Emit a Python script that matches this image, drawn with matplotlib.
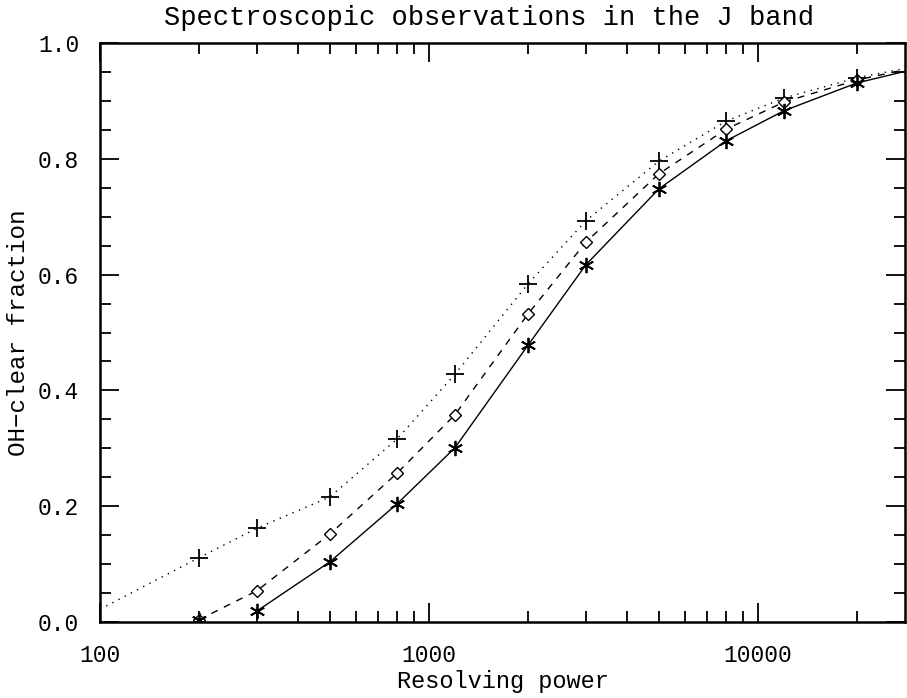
import matplotlib
matplotlib.use("Agg")
import matplotlib.pyplot as plt
from matplotlib.ticker import LogLocator, MultipleLocator, FixedLocator, FixedFormatter

# ---- data ----
resolving_power = [200, 300, 500, 800, 1200, 2000, 3000, 5000, 8000, 12000, 20000]
frac_plus = [0.111, 0.162, 0.216, 0.316, 0.428, 0.584, 0.693, 0.796, 0.865, 0.905, 0.940]
frac_diamond = [0.004, 0.054, 0.152, 0.257, 0.358, 0.532, 0.656, 0.774, 0.851, 0.898, 0.936]
frac_star = [0.003, 0.019, 0.104, 0.204, 0.301, 0.478, 0.617, 0.748, 0.831, 0.883, 0.931]

# curve end points (lines extend past the markers)
plus_line_x = [100] + resolving_power + [28000]
plus_line_y = [0.022] + frac_plus + [0.956]
diamond_line_x = resolving_power + [28000]
diamond_line_y = frac_diamond + [0.954]
star_line_x = resolving_power[1:] + [28000]
star_line_y = frac_star[1:] + [0.951]

xtick_vals = [100, 1000, 10000]
xtick_labels = ["100", "1000", "10000"]
ytick_vals = [0.0, 0.2, 0.4, 0.6, 0.8, 1.0]
ytick_labels = ["0.0", "0.2", "0.4", "0.6", "0.8", "1.0"]

title = "Spectroscopic observations in the J band"
xlabel = "Resolving power"
ylabel = "OH\u2212clear fraction"

FONT = ["Liberation Mono", "DejaVu Sans Mono"]

fig = plt.figure(figsize=(9.07, 6.98), dpi=100)
ax = fig.add_axes([100/907, 76/698, 805/907, 579/698])

ax.plot(plus_line_x, plus_line_y, color="black", lw=1.0, linestyle=(0, (1, 4)))
ax.plot(diamond_line_x, diamond_line_y, color="black", lw=1.0, linestyle=(0, (5, 5)))
ax.plot(star_line_x, star_line_y, color="black", lw=1.0, linestyle="-")

ax.plot(resolving_power, frac_plus, linestyle="none", marker="+", ms=13, mew=1.3, color="black")
ax.plot(resolving_power, frac_diamond, linestyle="none", marker="D", ms=6, mew=1.0,
        mfc="white", mec="black")
ax.plot(resolving_power, frac_star, linestyle="none", marker=(6, 2, 0), ms=11, mew=1.3, color="black")

ax.set_xscale("log")
ax.set_xlim(100, 28000)
ax.set_ylim(0, 1.0)

ax.xaxis.set_major_locator(FixedLocator(xtick_vals))
ax.xaxis.set_major_formatter(FixedFormatter(xtick_labels))
ax.xaxis.set_minor_locator(LogLocator(base=10, subs=range(2, 10)))
ax.xaxis.set_minor_formatter(FixedFormatter([]))
ax.yaxis.set_major_locator(FixedLocator(ytick_vals))
ax.yaxis.set_major_formatter(FixedFormatter(ytick_labels))
ax.yaxis.set_minor_locator(MultipleLocator(0.05))

ax.tick_params(which="both", direction="in", top=True, right=True, width=1.3, color="black")
ax.tick_params(which="major", length=14)
ax.tick_params(which="minor", length=8)
ax.tick_params(axis="x", which="major", pad=16)
ax.tick_params(axis="y", which="major", pad=15)

for s in ax.spines.values():
    s.set_linewidth(1.8)

for lab in ax.get_xticklabels() + ax.get_yticklabels():
    lab.set_family(FONT)
    lab.set_fontsize(16.5)

ax.set_xlabel(xlabel, family=FONT, fontsize=17, labelpad=2)
ax.set_ylabel(ylabel, family=FONT, fontsize=17.5, labelpad=6)
fig.text(489/907, 1 - 18/698, title, family=FONT, fontsize=19.5,
         ha="center", va="center")

fig.savefig("out.png", dpi=100, facecolor="white")
